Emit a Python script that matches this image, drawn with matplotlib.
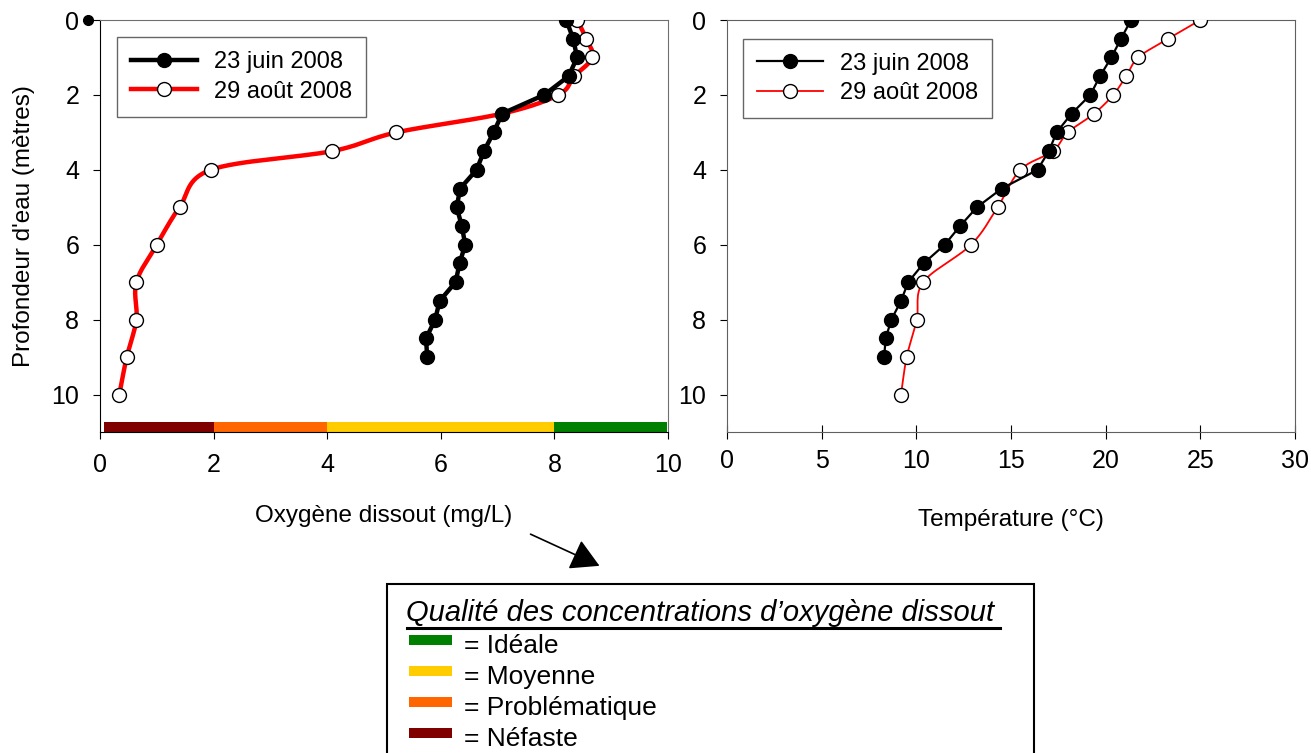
import matplotlib
matplotlib.use("Agg")
import matplotlib.pyplot as plt
import numpy as np
from matplotlib.patches import Rectangle, FancyArrowPatch
from matplotlib.lines import Line2D

plt.rcParams['font.family'] = ['Liberation Sans', 'DejaVu Sans']

# profondeurs (m)
prof_juin = [0, 0.5, 1, 1.5, 2, 2.5, 3, 3.5, 4, 4.5, 5, 5.5, 6, 6.5, 7, 7.5, 8, 8.5, 9]
prof_aout = [0, 0.5, 1, 1.5, 2, 2.5, 3, 3.5, 4, 5, 6, 7, 8, 9, 10]
prof_aout_t = [0, 0.5, 1, 1.5, 2, 2.5, 3, 3.5, 4, 5, 6, 7, 8, 9, 10]

# oxygene dissous (mg/L)
o2_juin = [8.21, 8.33, 8.40, 8.25, 7.82, 7.08, 6.93, 6.76, 6.63, 6.34, 6.28, 6.37,
           6.43, 6.33, 6.26, 5.98, 5.90, 5.74, 5.76]
o2_aout = [8.40, 8.56, 8.67, 8.35, 8.07, 7.08, 5.22, 4.09, 1.95, 1.40, 1.00, 0.64,
           0.64, 0.47, 0.34]

# temperature (C)
temp_juin = [21.34, 20.81, 20.30, 19.70, 19.19, 18.20, 17.41, 17.00, 16.40, 14.51,
             13.20, 12.31, 11.50, 10.38, 9.57, 9.19, 8.68, 8.38, 8.30]
temp_aout = [25.0, 23.30, 21.72, 21.09, 20.40, 19.39, 18.0, 17.21, 15.49, 14.29,
             12.89, 10.36, 10.02, 9.49, 9.19]

# bandes de qualite
bande_debut = [0.07, 2.0, 4.0, 8.0]
bande_fin = [2.0, 4.02, 8.0, 9.98]
bande_coul = ['#800000', '#FF6600', '#FFCC00', '#008000']
qualite_noms = ['= Idéale', '= Moyenne', '= Problématique', '= Néfaste']
qualite_coul = ['#008000', '#FFCC00', '#FF6600', '#800000']


def lisse(x, y, n=16):
    # courbe lissee (catmull-rom) passant par les points
    p = np.column_stack([x, y]).astype(float)
    p = np.vstack([2 * p[0] - p[1], p, 2 * p[-1] - p[-2]])
    out = []
    t = np.linspace(0, 1, n, endpoint=False)[:, None]
    for i in range(1, len(p) - 2):
        p0, p1, p2, p3 = p[i - 1], p[i], p[i + 1], p[i + 2]
        seg = 0.5 * (2 * p1 + (-p0 + p2) * t
                     + (2 * p0 - 5 * p1 + 4 * p2 - p3) * t ** 2
                     + (-p0 + 3 * p1 - 3 * p2 + p3) * t ** 3)
        out.append(seg)
    out.append(p[-2][None, :])
    out = np.vstack(out)
    return out[:, 0], out[:, 1]


W, H = 1311, 753
fig = plt.figure(figsize=(W / 100, H / 100), dpi=100)

ax1 = fig.add_axes([100 / W, 1 - 432 / H, 568 / W, 412 / H])
ax2 = fig.add_axes([727 / W, 1 - 432 / H, 568 / W, 412 / H])

# --- oxygene ---
xs, ys = lisse(o2_aout, prof_aout)
ax1.plot(xs, ys, color='red', lw=3.2, zorder=3)
ax1.plot(o2_aout, prof_aout, 'o', mfc='white', mec='black', mew=1, ms=10, zorder=4)
ax1.plot(o2_juin, prof_juin, '-o', color='black', lw=3.2, ms=10, zorder=5)
ax1.plot([-0.22], [0], 'o', color='black', ms=7, clip_on=False, zorder=6)

ax1.broken_barh([(a, b - a) for a, b in zip(bande_debut, bande_fin)], (10.72, 0.28),
                facecolors=bande_coul, zorder=2)

ax1.set_xlim(0, 10)
ax1.set_ylim(11, 0)
ax1.set_xticks(range(0, 11, 2))
ax1.set_yticks(range(0, 11, 2))
ax1.set_xlabel('Oxygène dissout (mg/L)', fontsize=17.5, labelpad=20)
ax1.set_ylabel("Profondeur d'eau (mètres)", fontsize=17.5, labelpad=12)
ax1.tick_params(labelsize=18, length=5, pad=10)
for s in ['top', 'right']:
    ax1.spines[s].set_color('#707070')

h1 = [Line2D([], [], color='black', lw=3.2, marker='o', ms=10),
      Line2D([], [], color='red', lw=3.2, marker='o', ms=10, mfc='white', mec='black')]
leg1 = ax1.legend(h1, ['23 juin 2008', '29 août 2008'], loc='upper left',
                  bbox_to_anchor=(0.03, 0.958), fontsize=17, fancybox=False,
                  edgecolor='#404040', handlelength=2.8, borderpad=0.6,
                  labelspacing=0.3, borderaxespad=0, handletextpad=0.7)
leg1.get_frame().set_linewidth(1)

# --- temperature ---
xs, ys = lisse(temp_aout, prof_aout_t)
ax2.plot(xs, ys, color='red', lw=1.3, zorder=3)
ax2.plot(temp_aout, prof_aout_t, 'o', mfc='white', mec='black', mew=1, ms=10, zorder=4)
ax2.plot(temp_juin, prof_juin, '-o', color='black', lw=1.6, ms=10, zorder=5)

ax2.set_xlim(0, 30)
ax2.set_ylim(11, 0)
ax2.set_xticks(range(0, 31, 5))
ax2.set_yticks(range(0, 11, 2))
ax2.set_xlabel('Température (°C)', fontsize=17.5, labelpad=26)
ax2.tick_params(labelsize=18, length=5, pad=10)
ax2.tick_params(axis='x', direction='inout', length=10, pad=7)
for s in ax2.spines.values():
    s.set_color('#606060')

h2 = [Line2D([], [], color='black', lw=1.6, marker='o', ms=10),
      Line2D([], [], color='red', lw=1.3, marker='o', ms=10, mfc='white', mec='black')]
leg2 = ax2.legend(h2, ['23 juin 2008', '29 août 2008'], loc='upper left',
                  bbox_to_anchor=(0.028, 0.955), fontsize=17, fancybox=False,
                  edgecolor='#404040', handlelength=2.8, borderpad=0.6,
                  labelspacing=0.3, borderaxespad=0, handletextpad=0.7)
leg2.get_frame().set_linewidth(1)

# --- fleche et encadre ---
fig.add_artist(FancyArrowPatch(
    (528 / W, 1 - 533 / H), (602 / W, 1 - 567 / H), transform=fig.transFigure,
    arrowstyle='-|>,head_length=0.8,head_width=0.45', mutation_scale=22,
    color='black', lw=1.2))

fig.add_artist(Rectangle((387 / W, -0.02), (1034 - 387) / W, 0.02 + 1 - 584 / H,
                         transform=fig.transFigure, fill=False, ec='black', lw=1.5))
fig.text(406 / W, 1 - 613 / H, 'Qualité des concentrations d\u2019oxygène dissout',
         fontsize=21, style='italic', va='center', ha='left')
fig.add_artist(Line2D([407 / W, 1000 / W], [1 - 628 / H, 1 - 628 / H],
                      transform=fig.transFigure, color='black', lw=2.2))
for i, (nom, c) in enumerate(zip(qualite_noms, qualite_coul)):
    yc = 640 + 31 * i
    fig.add_artist(Rectangle((409 / W, 1 - (yc + 5) / H), 43 / W, 10 / H,
                             transform=fig.transFigure, fc=c, ec='none'))
    fig.text(464 / W, 1 - (yc + 6) / H, nom, fontsize=19, va='center', ha='left')

fig.savefig('out.png', dpi=100)
